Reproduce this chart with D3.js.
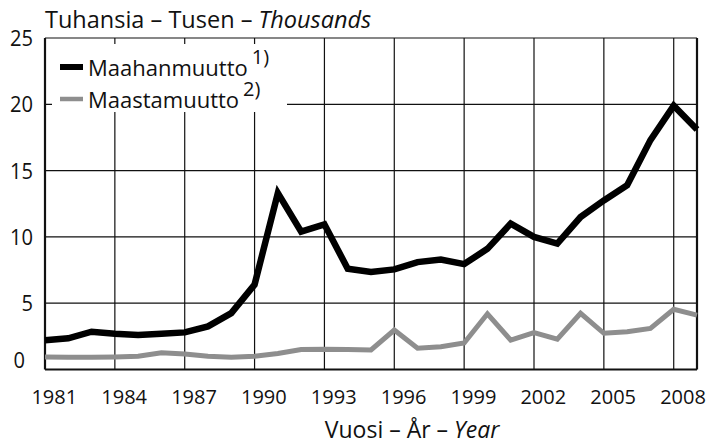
<!DOCTYPE html>
<html>
<head>
<meta charset="utf-8">
<script src="https://cdn.jsdelivr.net/npm/d3@7/dist/d3.min.js"></script>
<style>
  html, body { margin: 0; padding: 0; background: #fff; }
  svg { display: block; font-family: "Open Sans", "Noto Sans", sans-serif; }
</style>
</head>
<body>
<svg id="chart" width="709" height="444"></svg>
<script>
const years = d3.range(1981, 2010);
const maahanmuutto = [2.2, 2.35, 2.85, 2.7, 2.6, 2.7, 2.8, 3.25, 4.25, 6.4,
  13.3, 10.4, 10.95, 7.6, 7.35, 7.55, 8.1, 8.3, 7.95, 9.1,
  11.0, 10.0, 9.5, 11.5, 12.75, 13.9, 17.3, 19.9, 18.1];
const maastamuutto = [0.95, 0.92, 0.92, 0.95, 1.0, 1.27, 1.17, 1.0, 0.92, 1.0,
  1.2, 1.5, 1.52, 1.5, 1.47, 2.98, 1.6, 1.72, 2.0, 4.2,
  2.22, 2.78, 2.28, 4.24, 2.73, 2.85, 3.1, 4.54, 4.1];
const xTickLabels = [1981, 1984, 1987, 1990, 1993, 1996, 1999, 2002, 2005, 2008];
const yTicks = [0, 5, 10, 15, 20, 25];
const seriesNames = ["Maahanmuutto", "Maastamuutto"];
const seriesNotes = ["1)", "2)"];

const svg = d3.select("#chart");
const x = d3.scaleLinear().domain([1981, 2009]).range([45, 697]);
const y = d3.scaleLinear().domain([0, 25]).range([369.5, 38]);
const ink = "#111";
const grayColor = "#8e8e8e";

// grid
const grid = svg.append("g");
grid.selectAll("line.h").data(yTicks).join("line")
  .attr("x1", x(1981)).attr("x2", x(2009))
  .attr("y1", d => y(d)).attr("y2", d => y(d))
  .attr("stroke", ink).attr("stroke-width", d => d === 0 ? 2 : 1.2);
grid.selectAll("line.v").data(xTickLabels.concat([2009])).join("line")
  .attr("x1", d => x(d)).attr("x2", d => x(d))
  .attr("y1", y(25)).attr("y2", y(0))
  .attr("stroke", ink).attr("stroke-width", d => (d === 1981 || d === 2009) ? 2.2 : 1.2);

// y labels
svg.append("g").selectAll("text").data(yTicks).join("text")
  .attr("x", d => d === 0 ? 25 : 33)
  .attr("y", d => d === 0 ? 368 : y(d))
  .attr("dy", d => d === 0 ? 0 : "0.36em")
  .attr("text-anchor", "end").attr("font-size", 22).attr("fill", ink)
  .attr("textLength", d => String(d).length * 11.5)
  .attr("lengthAdjust", "spacingAndGlyphs")
  .text(d => d);

// x labels
svg.append("g").selectAll("text").data(xTickLabels).join("text")
  .attr("x", d => x(d + 0.4)).attr("y", 404)
  .attr("text-anchor", "middle").attr("font-size", 20).attr("fill", ink)
  .text(d => d);

// titles
const t = svg.append("text").attr("x", 45).attr("y", 28).attr("font-size", 23.5).attr("fill", ink);
t.append("tspan").text("Tuhansia – Tusen – ");
t.append("tspan").attr("font-style", "italic").text("Thousands");

const xt = svg.append("text").attr("x", 412).attr("y", 438).attr("text-anchor", "middle")
  .attr("font-size", 23).attr("fill", ink);
xt.append("tspan").text("Vuosi – År – ");
xt.append("tspan").attr("font-style", "italic").text("Year");

// lines
const line = d3.line().x((d, i) => x(years[i])).y(d => y(d));
svg.append("path").datum(maastamuutto).attr("d", line)
  .attr("fill", "none").attr("stroke", grayColor).attr("stroke-width", 5)
  .attr("stroke-linejoin", "miter");
svg.append("path").datum(maahanmuutto).attr("d", line)
  .attr("fill", "none").attr("stroke", "#000").attr("stroke-width", 6.5)
  .attr("stroke-linejoin", "miter");

// legend
const lg = svg.append("g");
lg.append("rect").attr("x", 52).attr("y", 44).attr("width", 235).attr("height", 68).attr("fill", "#fff");
const legendY = [67, 99];
const legendColors = ["#000", grayColor];
const legendWidths = [6, 4.5];
seriesNames.forEach((name, i) => {
  lg.append("line").attr("x1", 60).attr("x2", 83).attr("y1", legendY[i]).attr("y2", legendY[i])
    .attr("stroke", legendColors[i]).attr("stroke-width", legendWidths[i]);
  const tx = lg.append("text").attr("x", 88).attr("y", legendY[i] + 9)
    .attr("font-size", 22).attr("fill", ink).text(name);
  const w = tx.node().getComputedTextLength();
  lg.append("text").attr("x", 88 + w + 4).attr("y", legendY[i] - 3)
    .attr("font-size", 20).attr("fill", ink).text(seriesNotes[i]);
});
</script>
</body>
</html>
